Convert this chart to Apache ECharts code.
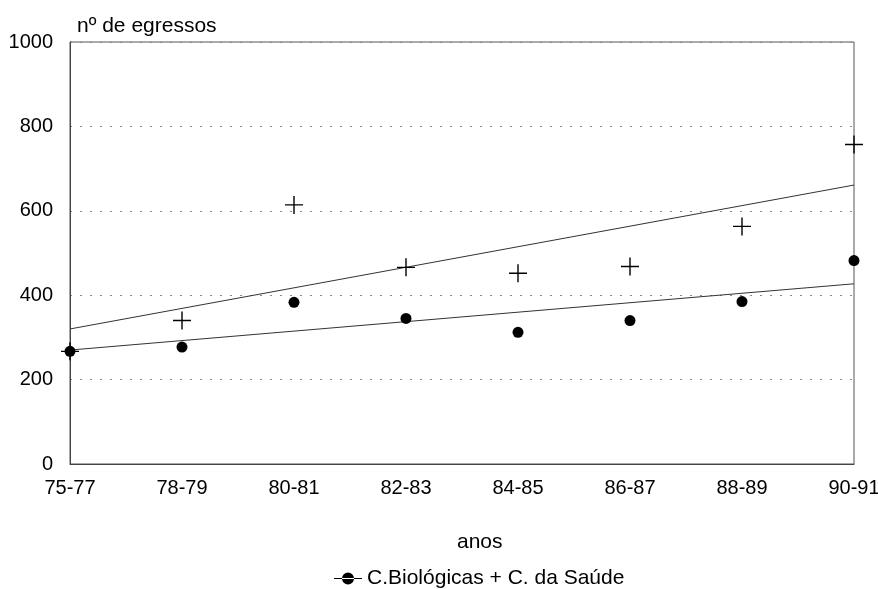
<!DOCTYPE html>
<html>
<head>
<meta charset="utf-8">
<script src="https://cdn.jsdelivr.net/npm/echarts@6/dist/echarts.min.js"></script>
<style>
  html, body { margin: 0; padding: 0; background: #fff; }
  #chart { width: 878px; height: 589px; }
</style>
</head>
<body>
<div id="chart"></div>
<script>
// periods on the x axis
const categories = ['75-77', '78-79', '80-81', '82-83', '84-85', '86-87', '88-89', '90-91'];
// C.Biológicas + C. da Saúde (dots)
const biologicas = [267, 277, 383, 345, 312, 340, 385, 482];
// second series (plus markers), first point sits under the dot
const outros = [267, 340, 614, 466, 452, 468, 563, 757];
// trend lines: value at first and last period
const trendOutros = [320, 661];
const trendBiologicas = [270, 427];
const yTicks = [0, 200, 400, 600, 800, 1000];

const chart = echarts.init(document.getElementById('chart'));
const font = 'Liberation Sans, Arial, Helvetica, sans-serif';
const last = categories.length - 1;

const option = {
  animation: false,
  backgroundColor: '#fff',
  textStyle: { fontFamily: font, color: '#000' },
  title: [
    { text: 'nº de egressos', left: 72, top: 11,
      textStyle: { fontFamily: font, fontSize: 21, fontWeight: 'normal', color: '#000' } },
    { text: 'anos', left: 452, top: 527,
      textStyle: { fontFamily: font, fontSize: 21, fontWeight: 'normal', color: '#000' } }
  ],
  legend: {
    data: ['C.Biológicas + C. da Saúde'],
    left: 329, top: 563,
    itemWidth: 28, itemHeight: 13, itemGap: 2,
    icon: 'path://M0,6L28,6L28,7L0,7Z M8,6.5A6,6 0 1 0 20,6.5A6,6 0 1 0 8,6.5Z',
    textStyle: { fontFamily: font, fontSize: 21, color: '#000' }
  },
  grid: {
    left: 70, right: 24, top: 42, bottom: 125,
    outerBoundsMode: 'none', containLabel: false,
    show: true, borderColor: '#555', borderWidth: 1
  },
  xAxis: {
    type: 'category',
    data: categories,
    boundaryGap: false,
    axisLine: { lineStyle: { color: '#444' } },
    axisTick: { show: false },
    axisLabel: { fontFamily: font, fontSize: 20, color: '#000', margin: 14 },
    splitLine: { show: false }
  },
  yAxis: {
    type: 'value',
    min: yTicks[0], max: yTicks[yTicks.length - 1], interval: 200,
    axisLine: { show: true, lineStyle: { color: '#444' } },
    axisTick: { show: false },
    axisLabel: { fontFamily: font, fontSize: 20, color: '#000', margin: 17,
      formatter: function (v) { return String(v); } },
    splitLine: { lineStyle: { color: '#888', type: [2, 8], width: 1 } }
  },
  series: [
    {
      name: 'tendência outros',
      type: 'line',
      data: [[0, trendOutros[0]], [last, trendOutros[1]]],
      symbol: 'none',
      lineStyle: { color: '#333', width: 1 },
      z: 2
    },
    {
      name: 'tendência biológicas',
      type: 'line',
      data: [[0, trendBiologicas[0]], [last, trendBiologicas[1]]],
      symbol: 'none',
      lineStyle: { color: '#333', width: 1 },
      z: 2
    },
    {
      name: 'outros',
      type: 'scatter',
      data: outros,
      symbol: 'path://M0,8.3H18V9.7H0Z M8.3,0H9.7V18H8.3Z',
      symbolSize: 18,
      itemStyle: { color: '#000', opacity: 1 },
      z: 3
    },
    {
      name: 'C.Biológicas + C. da Saúde',
      type: 'scatter',
      data: biologicas,
      symbol: 'circle',
      symbolSize: 11,
      itemStyle: { color: '#000', opacity: 1 },
      z: 4
    }
  ]
};
chart.setOption(option);
</script>
</body>
</html>
